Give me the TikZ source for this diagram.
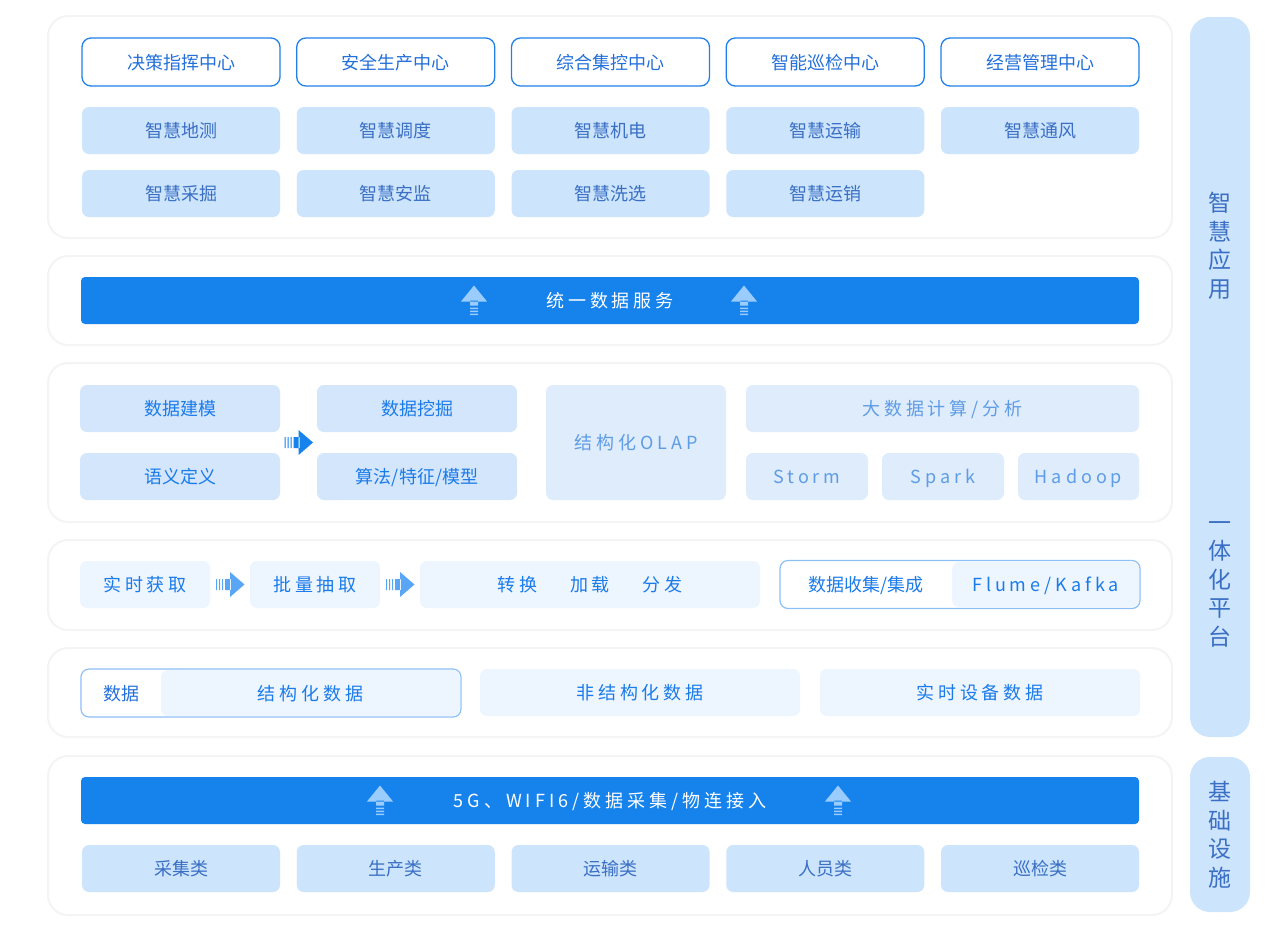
\documentclass[tikz,border=0pt]{standalone}
\usepackage{fontspec}
\setmainfont{Noto Sans CJK SC}
\newfontfamily\widefont[LetterSpace=22]{Noto Sans CJK SC}
\usepackage{tikz}
\usetikzlibrary{positioning,calc}
\definecolor{band}{HTML}{1682EC}
\definecolor{arrowlt}{HTML}{9ACDFD}
\definecolor{arrowmd}{HTML}{5AA6F6}
\definecolor{edgeblue}{HTML}{2181E8}
\definecolor{centertext}{HTML}{2370DA}
\definecolor{appfill}{HTML}{CCE4FC}
\definecolor{apptext}{HTML}{3A6FC4}
\definecolor{datafill}{HTML}{D3E6FC}
\definecolor{datatext}{HTML}{1B7BEA}
\definecolor{palefill}{HTML}{DEECFC}
\definecolor{paletext}{HTML}{5E9CE6}
\definecolor{softfill}{HTML}{EDF5FE}
\definecolor{softedge}{HTML}{8DC0F6}
\definecolor{paneledge}{HTML}{F4F4F4}

\tikzset{
    pics/uparr/.style={code={
        \fill[#1] (-13,1) -- (0,-15) -- (13,1) -- cycle (-4,0) rectangle (4,5)
            (-4,7) rectangle (4,8.5) (-4,10) rectangle (4,11.5) (-4,13) rectangle (4,14.5);
    }},
    pics/rarr/.style={code={
        \fill[#1] (-14,-5.5) rectangle (-12.8,5.5) (-11,-5.5) rectangle (-9.8,5.5)
            (-8,-5.5) rectangle (-6.8,5.5) (-5,-5.5) rectangle (1,5.5)
            (0,-12.5) -- (14.5,0) -- (0,12.5) -- cycle;
    }}
}

\begin{document}
\begin{tikzpicture}[
    x=1pt, y=-1pt,
    node distance=16.75pt and 16.75pt,
    every node/.style={inner sep=0pt, outer sep=0pt, font=\fontsize{18}{21}\selectfont},
    boxtext/.style={text height=16pt, text depth=2pt},
    panel/.style={draw=paneledge, line width=2pt, fill=white, rounded corners=20pt, minimum width=1124pt},
    sidebar/.style={fill=appfill, rounded corners=20pt, minimum width=60pt},
    vtext/.style={text=apptext, align=center, font=\fontsize{23}{28.5}\selectfont},
    centerbox/.style={boxtext, draw=edgeblue, line width=1.3pt, fill=white, rounded corners=9pt, minimum width=198pt, minimum height=48pt, text=centertext},
    appbox/.style={boxtext, fill=appfill, rounded corners=7pt, minimum width=198pt, minimum height=47pt, text=apptext},
    databox/.style={boxtext, fill=datafill, rounded corners=7pt, minimum height=47pt, text=datatext},
    palebox/.style={boxtext, fill=palefill, rounded corners=7pt, minimum height=47pt, text=paletext, font=\fontsize{18}{21}\widefont},
    flowbox/.style={boxtext, fill=softfill, rounded corners=7pt, minimum height=47pt, text=datatext, font=\fontsize{18}{21}\widefont},
    outbox/.style={draw=softedge, line width=1.2pt, fill=white, rounded corners=8pt, minimum height=48pt},
    bandbox/.style={boxtext, fill=band, rounded corners=4pt, minimum width=1058pt, minimum height=47pt, text=white, font=\fontsize{18}{21}\widefont}
]
    \useasboundingbox (0,0) rectangle (1280,930);

    % Layer panels
    \node[panel, minimum height=222pt] (appzone) at (610,127) {};
    \node[panel, minimum height=89pt] (servzone) at (610,300.5) {};
    \node[panel, minimum height=159pt] (minezone) at (610,442.5) {};
    \node[panel, minimum height=90pt] (flowzone) at (610,585) {};
    \node[panel, minimum height=89pt] (srczone) at (610,692.5) {};
    \node[panel, minimum height=159pt] (basezone) at (610,835.5) {};

    % Side labels
    \node[sidebar, minimum height=720pt] (platbar) at (1220,377) {};
    \node[sidebar, minimum height=155pt] (basebar) at (1220,834.5) {};
    \node[vtext] (applbl) at (1220,246) {智\\慧\\应\\用};
    \node[vtext] (platlbl) at (1220,584) {一\\体\\化\\平\\台};
    \node[vtext] (baselbl) at (basebar) {基\\础\\设\\施};

    % Smart applications
    \node[centerbox] (decide) at (181,62) {决策指挥中心};
    \node[centerbox, right=of decide] (safety) {安全生产中心};
    \node[centerbox, right=of safety] (control) {综合集控中心};
    \node[centerbox, right=of control] (patrol) {智能巡检中心};
    \node[centerbox, right=of patrol] (manage) {经营管理中心};
    \node[appbox, below=21pt of decide] (survey) {智慧地测};
    \node[appbox, right=of survey] (dispatch) {智慧调度};
    \node[appbox, right=of dispatch] (electro) {智慧机电};
    \node[appbox, right=of electro] (transport) {智慧运输};
    \node[appbox, right=of transport] (venti) {智慧通风};
    \node[appbox, below=16pt of survey] (mining) {智慧采掘};
    \node[appbox, right=of mining] (monitor) {智慧安监};
    \node[appbox, right=of monitor] (washing) {智慧洗选};
    \node[appbox, right=of washing] (sales) {智慧运销};

    % Unified data service
    \node[bandbox] (service) at (610,300.5) {统一数据服务};
    \pic at (474,300.5) {uparr=arrowlt};
    \pic at (744,300.5) {uparr=arrowlt};

    % Data mining and analysis
    \node[databox, minimum width=200pt] (model) at (180,408.5) {数据建模};
    \node[databox, minimum width=200pt] (semantic) at (180,476.5) {语义定义};
    \node[databox, minimum width=200pt] (dig) at (417,408.5) {数据挖掘};
    \node[databox, minimum width=200pt] (algo) at (417,476.5) {算法/特征/模型};
    \coordinate (digarr) at ($(model.south east)!0.5!(algo.north west)$);
    \pic at (digarr) {rarr=band};
    \node[palebox, minimum width=180pt, minimum height=115pt] (olap) at (636,442.5) {结构化OLAP};
    \node[palebox, minimum width=393pt] (bigdata) at (942.5,408.5) {大数据计算/分析};
    \node[palebox, minimum width=122pt] (storm) at (807,476.5) {Storm};
    \node[palebox, minimum width=122pt] (spark) at (943,476.5) {Spark};
    \node[palebox, minimum width=121pt] (hadoop) at (1078.5,476.5) {Hadoop};

    % Data flow
    \node[flowbox, minimum width=130pt] (realget) at (145,584.5) {实时获取};
    \node[flowbox, minimum width=130pt] (batch) at (315,584.5) {批量抽取};
    \node[flowbox, minimum width=340pt] (etl) at (590,584.5) {转换\hspace{33pt}加载\hspace{33pt}分发};
    \pic at ($(realget.east)!0.5!(batch.west)$) {rarr=arrowmd};
    \pic at ($(batch.east)!0.5!(etl.west)$) {rarr=arrowmd};
    \node[outbox, minimum width=360pt] (integ) at (960,584.5) {};
    \node[flowbox, minimum width=187pt, minimum height=45pt] (flume) at (1045.5,584.5) {Flume/Kafka};
    \node[boxtext, text=datatext] (integlbl) at ($(integ.west)!0.5!(flume.west)$) {数据收集/集成};

    % Data sources
    \node[outbox, minimum width=380pt] (datakind) at (271,693) {};
    \node[flowbox, minimum width=299pt, minimum height=46pt] (struct) at (310.5,693) {结构化数据};
    \node[boxtext, text=centertext] (kindlbl) at ($(datakind.west)!0.5!(struct.west)$) {数据};
    \node[flowbox, minimum width=320pt] (unstruct) at (640,692.5) {非结构化数据};
    \node[flowbox, minimum width=320pt] (devdata) at (980,692.5) {实时设备数据};

    % Infrastructure
    \node[bandbox] (access) at (610,800.5) {5G、WIFI6/数据采集/物连接入};
    \pic at (380,800.5) {uparr=arrowlt};
    \pic at (838,800.5) {uparr=arrowlt};
    \node[appbox] (collect) at (181,868.5) {采集类};
    \node[appbox, right=of collect] (produce) {生产类};
    \node[appbox, right=of produce] (carry) {运输类};
    \node[appbox, right=of carry] (staff) {人员类};
    \node[appbox, right=of staff] (inspect) {巡检类};
\end{tikzpicture}
\end{document}
